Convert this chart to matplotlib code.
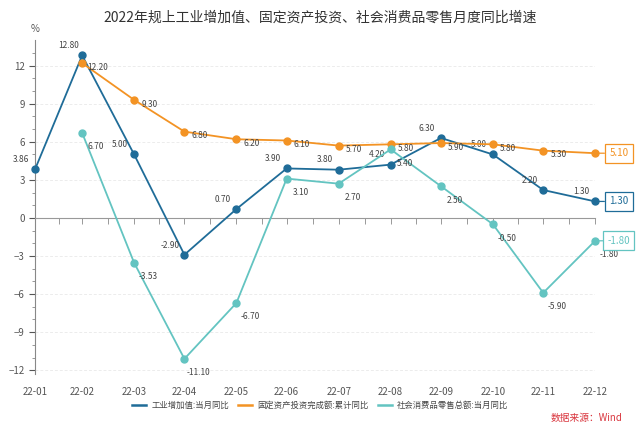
import matplotlib
matplotlib.use("Agg")
import matplotlib.pyplot as plt
import matplotlib.dates as mdates
import matplotlib.transforms as mtransforms
import numpy as np
import pandas as pd

plt.rcParams['font.family'] = ['Noto Sans CJK SC', 'DejaVu Sans']

# 数据
months = ['2022-01-31', '2022-02-28', '2022-03-31', '2022-04-30', '2022-05-31', '2022-06-30',
          '2022-07-31', '2022-08-31', '2022-09-30', '2022-10-31', '2022-11-30', '2022-12-31']
month_labels = ['22-01', '22-02', '22-03', '22-04', '22-05', '22-06',
                '22-07', '22-08', '22-09', '22-10', '22-11', '22-12']

industry = [3.86, 12.80, 5.00, -2.90, 0.70, 3.90, 3.80, 4.20, 6.30, 5.00, 2.20, 1.30]
invest = [np.nan, 12.20, 9.30, 6.80, 6.20, 6.10, 5.70, 5.80, 5.90, 5.80, 5.30, 5.10]
retail = [np.nan, 6.70, -3.53, -11.10, -6.70, 3.10, 2.70, 5.40, 2.50, -0.50, -5.90, -1.80]

names = ['工业增加值:当月同比', '固定资产投资完成额:累计同比', '社会消费品零售总额:当月同比']
colors = ['#1f6c98', '#f39324', '#63c4c1']
# 数据标签偏移 (points)
offsets = [(-10, 7), (11, -3), (10, -10)]
# 末点是否另标数值（固定资产投资只显示末端框）
label_last = [True, False, True]

title = '2022年规上工业增加值、固定资产投资、社会消费品零售月度同比增速'
source = '数据来源：Wind'

x = pd.to_datetime(months)

fig = plt.figure(figsize=(6.4, 4.28), dpi=100)
ax = fig.add_axes([0.055, 0.126, 0.875, 0.78])

series = [industry, invest, retail]
for vals, name, c, off, ll in zip(series, names, colors, offsets, label_last):
    ax.plot(x, vals, color=c, lw=1.3, marker='o', markersize=5,
            label=name, clip_on=False, zorder=3)
    n = len(vals)
    for i, (xi, v) in enumerate(zip(x, vals)):
        if np.isnan(v) or (i == n - 1 and not ll):
            continue
        ax.annotate(f'{v:.2f}', (xi, v), xytext=off, textcoords='offset points',
                    ha='center', va='center', fontsize=6, color='#444444')
    # 末端标签框
    last = [v for v in vals if not np.isnan(v)][-1]
    ax.annotate(f'{last:.2f}', (x[-1], last), xytext=(17, 0), textcoords='offset points',
                ha='center', va='center', fontsize=7, color=c,
                bbox=dict(boxstyle='square,pad=0.45', fc='white', ec=c, lw=0.9),
                arrowprops=dict(arrowstyle='-', color=c, lw=0.9, shrinkA=0, shrinkB=3),
                annotation_clip=False)

ax.set_xlim(x[0], x[-1])
ax.set_ylim(-12.3, 14)

ax.set_yticks(np.arange(-12, 13, 3))
ax.set_yticks(np.arange(-12, 14, 1), minor=True)
ax.tick_params(axis='y', which='major', labelsize=7, colors='#555555', length=4, width=0.8)
ax.tick_params(axis='y', which='minor', length=2.5, width=0.6, colors='#888888')
ax.yaxis.grid(True, which='major', color='#ececec', linestyle=(0, (3, 2)), lw=0.7)

ax.spines['top'].set_visible(False)
ax.spines['right'].set_visible(False)
ax.spines['left'].set_color('#888888')
ax.spines['bottom'].set_position(('data', 0))
ax.spines['bottom'].set_color('#999999')

# x 轴刻度在 0 线上，标签放在底部
mids = x[:-1] + (x[1:] - x[:-1]) / 2
ax.set_xticks(x)
ax.set_xticks(mids, minor=True)
ax.tick_params(axis='x', which='both', labelbottom=False, direction='out',
               length=4, width=0.7, colors='#999999')
trans = mtransforms.blended_transform_factory(ax.transData, ax.transAxes)
for xi, lab in zip(x, month_labels):
    ax.text(mdates.date2num(xi), -0.055, lab, transform=trans, ha='center', va='center',
            fontsize=7, color='#555555')

ax.text(0, 1.02, '%', transform=ax.transAxes, ha='center', va='bottom',
        fontsize=7, color='#555555')

fig.text(0.5, 0.96, title, ha='center', va='center', fontsize=10, color='#333333')

leg = fig.legend(loc='center', bbox_to_anchor=(0.5, 0.052), ncol=3, frameon=False,
                 fontsize=6, handlelength=1.7, columnspacing=1.1, handletextpad=0.6)
for h in leg.legend_handles:
    h.set_marker('')
    h.set_linewidth(1.8)
for t in leg.get_texts():
    t.set_color('#444444')

fig.text(0.972, 0.023, source, ha='right', va='center', fontsize=7, color='#d9363e')

fig.savefig('out.png', dpi=100)
